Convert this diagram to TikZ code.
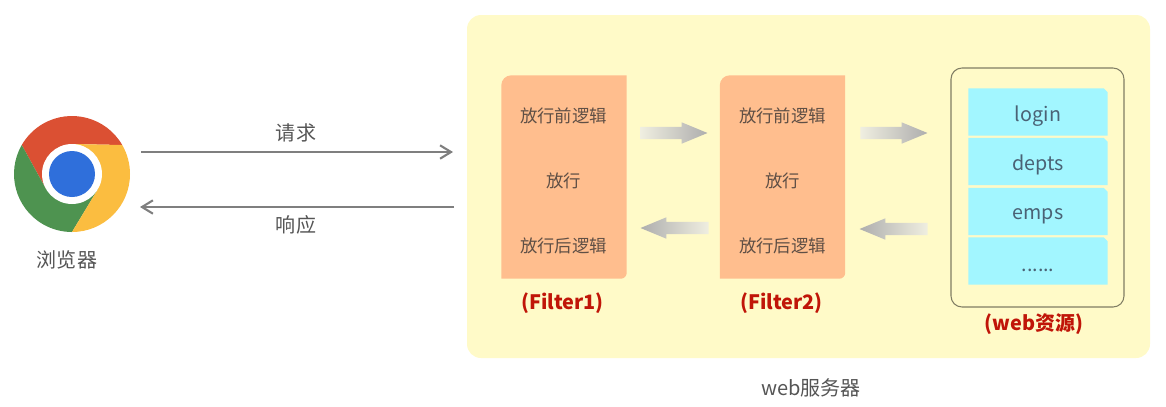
\documentclass[tikz,border=0pt]{standalone}
\usepackage{fontspec}
\setmainfont{Noto Sans CJK SC}
\usetikzlibrary{arrows.meta,shapes.arrows}

\definecolor{panelyellow}{HTML}{FFFAC8}
\definecolor{filterorange}{HTML}{FFBE8E}
\definecolor{resourcecyan}{HTML}{A2F6FF}
\definecolor{filterred}{HTML}{C01508}
\definecolor{labelgray}{HTML}{555555}
\definecolor{linegray}{HTML}{7F7F7F}
\definecolor{steptone}{HTML}{5F4F45}
\definecolor{restone}{HTML}{4A6275}
\definecolor{chromered}{HTML}{DB5033}
\definecolor{chromegreen}{HTML}{4E9350}
\definecolor{chromeyellow}{HTML}{FBBD40}
\definecolor{chromeblue}{HTML}{2F6FDB}

\tikzset{
	label/.style={font=\fontsize{5.7pt}{6pt}\selectfont, text=labelgray, inner sep=0pt},
	steptext/.style={font=\fontsize{4.95pt}{6pt}\selectfont, text=steptone, inner sep=0pt},
	filtername/.style={font=\fontsize{5.65pt}{6pt}\selectfont\bfseries, text=filterred, inner sep=0pt},
	restext/.style={font=\fontsize{5.6pt}{6pt}\selectfont, text=restone, inner sep=0pt},
	filterbox/.style={minimum width=1.24cm, minimum height=2.02cm, inner sep=0pt},
	resbox/.style={minimum width=1.38cm, minimum height=0.46cm, inner sep=0pt},
	flowright/.style={single arrow, shape border rotate=0, inner sep=0.055cm, minimum height=0.67cm, single arrow head extend=0.045cm, single arrow tip angle=45, single arrow head indent=0pt, left color=panelyellow!70!gray!40, right color=black!32},
	flowleft/.style={single arrow, shape border rotate=180, inner sep=0.055cm, minimum height=0.68cm, single arrow head extend=0.045cm, single arrow tip angle=45, single arrow head indent=0pt, left color=black!32, right color=panelyellow!70!gray!40},
	msgarrow/.style={draw=linegray, line width=0.6pt, -{Straight Barb[length=3.1pt,width=3.8pt]}},
}

% fill a named box, round its upper left and lower right corners
\newcommand{\softbox}[1]{
	\fill[filterorange] (#1.south west) [rounded corners=0.1cm] -- (#1.north west) [sharp corners] -- (#1.north east) [rounded corners=0.06cm] -- (#1.south east) [sharp corners] -- (#1.south west) -- cycle;
}
% fill a named box, cut its upper right corner a little
\newcommand{\cutbox}[1]{
	\fill[resourcecyan] (#1.south west) -- (#1.north west) -- ([xshift=-0.04cm]#1.north east) -- ([yshift=-0.04cm]#1.north east) -- (#1.south east) -- cycle;
}

\begin{document}
\begin{tikzpicture}
	\useasboundingbox (0,0) rectangle (11.66,4.06);

	\node[fill=panelyellow, rounded corners=0.14cm, minimum width=6.83cm, minimum height=3.43cm, inner sep=0pt] (server) at (8.085,2.195) {};

	% browser logo
	\node[circle, minimum size=1.16cm, inner sep=0pt] (chrome) at (0.72,2.32) {};
	\begin{scope}[shift={(chrome.center)}]
		\fill[chromered] (0,0) -- (90:0.3) -- (30:0.58) arc (30:150:0.58) -- (210:0.3) -- cycle;
		\fill[chromegreen] (0,0) -- (210:0.3) -- (150:0.58) arc (150:270:0.58) -- (330:0.3) -- cycle;
		\fill[chromeyellow] (0,0) -- (330:0.3) -- (270:0.58) arc (270:390:0.58) -- (90:0.3) -- cycle;
		\fill[white] (0,0) circle (0.3);
		\fill[chromeblue] (0,0) circle (0.23);
	\end{scope}
	\node[label] (browser) at (0.67,1.46) {浏览器};

	\coordinate (reqstart) at (1.41,2.54);
	\coordinate (reqend) at (4.53,2.54);
	\coordinate (respstart) at (4.54,1.99);
	\coordinate (respend) at (1.40,1.99);
	\draw[msgarrow] (reqstart) -- (reqend);
	\draw[msgarrow] (respstart) -- (respend);
	\node[label] (request) at (2.96,2.73) {请求};
	\node[label] (response) at (2.96,1.81) {响应};

	% filters
	\node[filterbox] (filter1) at (5.64,2.29) {};
	\node[filterbox] (filter2) at (7.825,2.29) {};
	\softbox{filter1}
	\softbox{filter2}
	\node[steptext] (before1) at (5.635,2.90) {放行前逻辑};
	\node[steptext] (pass1) at (5.635,2.25) {放行};
	\node[steptext] (after1) at (5.635,1.605) {放行后逻辑};
	\node[steptext] (before2) at (7.825,2.90) {放行前逻辑};
	\node[steptext] (pass2) at (7.825,2.25) {放行};
	\node[steptext] (after2) at (7.825,1.605) {放行后逻辑};
	\node[filtername] (name1) at (5.625,1.03) {(Filter1)};
	\node[filtername] (name2) at (7.815,1.03) {(Filter2)};

	\node[flowright] (go1) at (6.665,2.73) {};
	\node[flowright] (go2) at (8.865,2.73) {};
	\node[flowleft] (back1) at (6.82,1.78) {};
	\node[flowleft] (back2) at (9.01,1.77) {};

	% web resources
	\node[draw=black!50!panelyellow, line width=0.3pt, rounded corners=0.11cm, minimum width=1.73cm, minimum height=2.39cm, inner sep=0pt] (webbox) at (10.375,2.185) {};
	\node[resbox] (login) at (10.38,2.94) {};
	\node[resbox] (depts) at (10.38,2.445) {};
	\node[resbox] (emps) at (10.38,1.945) {};
	\node[resbox] (more) at (10.38,1.45) {};
	\cutbox{login}
	\cutbox{depts}
	\cutbox{emps}
	\cutbox{more}
	\node[restext, yshift=-0.04cm] at (login) {login};
	\node[restext, yshift=-0.03cm] at (depts) {depts};
	\node[restext, yshift=-0.05cm] at (emps) {emps};
	\node[restext, yshift=-0.09cm] at (more) {......};
	\node[filtername] (webname) at (10.34,0.82) {(web资源)};
	\node[label] (servername) at (8.11,0.18) {web服务器};
\end{tikzpicture}
\end{document}
